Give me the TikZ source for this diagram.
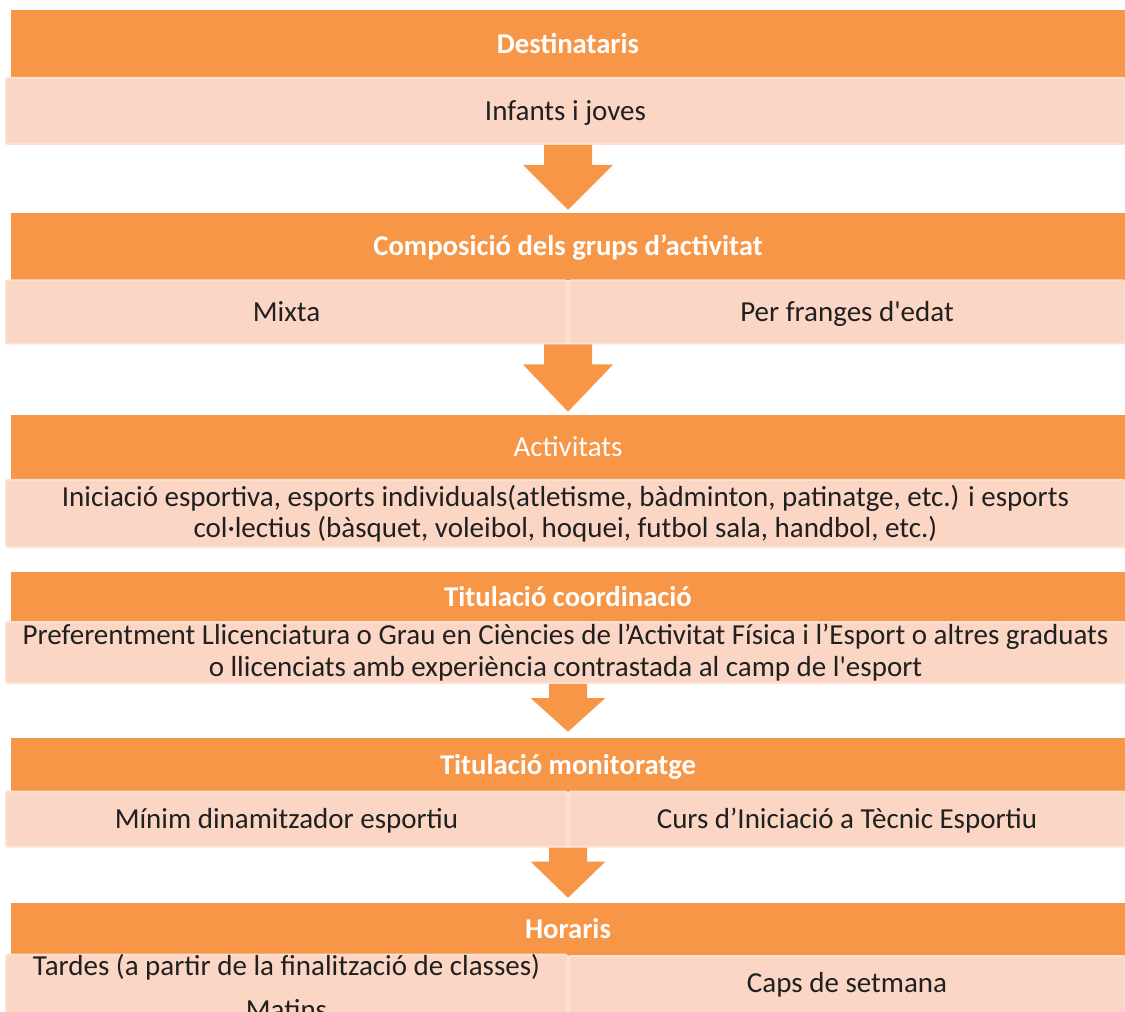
\documentclass[tikz,border=0pt]{standalone}
\usepackage{fontspec}
\setmainfont{Carlito}
\usetikzlibrary{calc}
\definecolor{hdr}{RGB}{247,150,70}
\definecolor{lite}{RGB}{251,214,196}
\definecolor{liteedge}{RGB}{252,224,210}
\definecolor{txt}{RGB}{32,32,32}
\newcommand\flowarrow[6]{%
  \fill[hdr] let \p1=(#1), \p2=(#2) in
    (\x2-#3,\y1) -- (\x2+#3,\y1) -- (\x2+#3,\y1-#5) -- (\x2+#4,\y1-#5)
    -- (\x2,\y2+#6) -- (\x2-#4,\y1-#5) -- (\x2-#3,\y1-#5) -- cycle;}
\begin{document}
\begin{tikzpicture}[x=0.75pt,y=-0.75pt,
  txtfont/.style={font=\fontsize{21.75pt}{23.5pt}\selectfont},
  oneline/.style={text height=18pt, text depth=4pt},
  hdrbox/.style={rectangle, fill=hdr, draw=none, inner sep=0pt,
    minimum width=835.5pt, minimum height={#1*0.75pt}, text=white, txtfont, oneline},
  hdrbold/.style={hdrbox=#1, font=\fontsize{21.5pt}{23.5pt}\selectfont\bfseries},
  litebox/.style={rectangle, fill=lite, draw=liteedge, line width=1.5pt,
    rounded corners=1.5pt, inner sep=0pt, minimum width=839.25pt,
    minimum height={#1*0.75pt}, text=txt, txtfont, align=center},
  liteleft/.style={litebox=#1, minimum width=420.75pt},
  literight/.style={litebox=#1, minimum width=417pt}]
\useasboundingbox (0,0) rectangle (1125,1012);
\clip (0,0) rectangle (1125,1012);

% row 1
\node[hdrbold=68] (h1) at (568,44) {Destinataris};
\node[litebox=66, oneline] (l1) at (565.5,111) {Infants i joves};

% row 2
\node[hdrbold=67] (h2) at (568,246.5) {Composició dels grups d’activitat};
\node[liteleft=63, oneline] (l2a) at (286.5,312) {Mixta};
\node[literight=63, oneline] (l2b) at (847,312) {Per franges d\textquotesingle edat};

% row 3
\node[hdrbox=65] (h3) at (568,447.5) {Activitats};
\node[litebox=67] (l3) at (565.5,513.5) {Iniciació esportiva, esports individuals(atletisme, bàdminton, patinatge, etc.) i esports\\col·lectius (bàsquet, voleibol, hoquei, futbol sala, handbol, etc.)};

% row 4
\node[hdrbold=50] (h4) at (568,597) {Titulació coordinació};
\node[litebox=61] (l4) at (565.5,652.5) {Preferentment Llicenciatura o Grau en Ciències de l’Activitat Física i l’Esport o altres graduats\\o llicenciats amb experiència contrastada al camp de l\textquotesingle esport};

% row 5
\node[hdrbold=54] (h5) at (568,765) {Titulació monitoratge};
\node[liteleft=55, oneline] (l5a) at (286.5,819) {Mínim dinamitzador esportiu};
\node[literight=55, oneline] (l5b) at (847,819) {Curs d’Iniciació a Tècnic Esportiu};

% row 6
\node[hdrbold=53] (h6) at (568,929.5) {Horaris};
\node[liteleft=62] (l6a) at (286.5,987) {Tardes (a partir de la finalització de classes)\\[9pt]Matins};
\node[literight=62, oneline] (l6b) at (847,987) {\raisebox{3pt}{Caps de setmana}};

% arrows
\flowarrow{l1.south}{h2.north}{18pt}{33.75pt}{15pt}{2.25pt}
\flowarrow{l2a.south east}{h3.north}{18pt}{33.75pt}{15pt}{2.25pt}
\flowarrow{l4.south}{h5.north}{14.25pt}{28.125pt}{10.5pt}{4.5pt}
\flowarrow{l5a.south east}{h6.north}{14.25pt}{28.125pt}{10.5pt}{3.75pt}
\end{tikzpicture}
\end{document}
